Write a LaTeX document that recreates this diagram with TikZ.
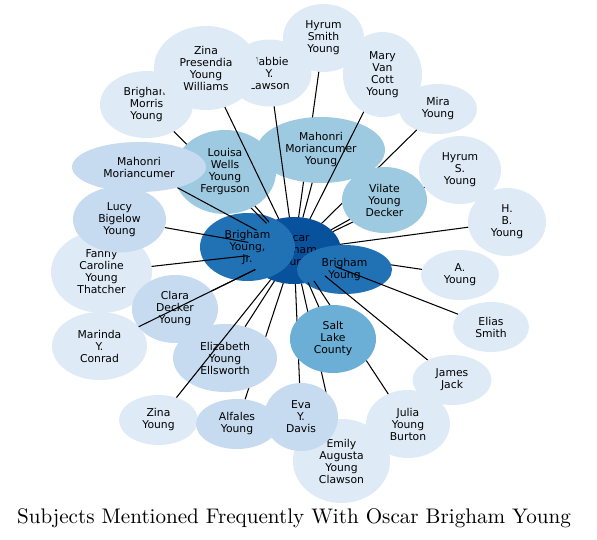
\documentclass[tikz,border=0pt]{standalone}
\usepackage{fontspec}
\usetikzlibrary{shapes.geometric}
\newfontfamily\nodefont{DejaVu Sans}
\newfontfamily\titlefont{lmroman10-regular}[Extension=.otf]
\definecolor{cA}{HTML}{DEEBF7}
\definecolor{cB}{HTML}{C6DBEF}
\definecolor{cC}{HTML}{9ECAE1}
\definecolor{cD}{HTML}{6BAED6}
\definecolor{cE}{HTML}{2171B5}
\definecolor{cF}{HTML}{08519C}
\pgfdeclarelayer{e0}
\pgfdeclarelayer{n1}
\pgfdeclarelayer{e1}
\pgfdeclarelayer{n2}
\pgfdeclarelayer{e2}
\pgfsetlayers{e0,n1,e1,n2,e2,main}
\tikzset{
  bub/.style={ellipse, draw=none, inner sep=0pt, outer sep=0pt, align=center,
    text=black, font=\nodefont\fontsize{10.8}{12}\selectfont},
  link/.style={draw=black, line width=1.05pt}
}
\begin{document}
\begin{tikzpicture}[x=1pt,y=-1pt]
\useasboundingbox (0,0) rectangle (597,539);
% ---------- bottom node layer
\begin{pgfonlayer}{n1}
\node[bub, fill=cF, minimum width=94pt, minimum height=67pt] (oscar) at (294,250.5) {Oscar\\Brigham\\Young};
\node[bub, fill=cE, minimum width=95pt, minimum height=68pt] (byjr) at (247.5,247) {Brigham\\Young,\\Jr.};
\node[bub, fill=cE, minimum width=95pt, minimum height=49pt] (by) at (344.5,269.5) {Brigham\\Young};
\node[bub, fill=cA, minimum width=93pt, minimum height=67pt] (bmy) at (146.5,104.5) {Brigham\\Morris\\Young};
\node[bub, fill=cA, minimum width=84pt, minimum height=67pt] (nabbie) at (269.5,73) {Nabbie\\Y.\\Lawson};
\node[bub, fill=cA, minimum width=81pt, minimum height=68pt] (hsmith) at (323.5,38) {Hyrum\\Smith\\Young};
\node[bub, fill=cA, minimum width=104pt, minimum height=84pt] (zinap) at (206,68) {Zina\\Presendia\\Young\\Williams};
\node[bub, fill=cA, minimum width=79pt, minimum height=85pt] (mary) at (382.5,74.5) {Mary\\Van\\Cott\\Young};
\node[bub, fill=cA, minimum width=78pt, minimum height=50pt] (mira) at (438,109) {Mira\\Young};
\node[bub, fill=cA, minimum width=97pt, minimum height=84pt] (emily) at (341.5,461) {Emily\\Augusta\\Young\\Clawson};
\node[bub, fill=cA, minimum width=84pt, minimum height=68pt] (julia) at (408,424) {Julia\\Young\\Burton};
\node[bub, fill=cA, minimum width=101pt, minimum height=82pt] (fanny) at (101.5,272) {Fanny\\Caroline\\Young\\Thatcher};
\node[bub, fill=cA, minimum width=95pt, minimum height=68pt] (marinda) at (99.5,346) {Marinda\\Y.\\Conrad};
\end{pgfonlayer}
% ---------- middle node layer
\begin{pgfonlayer}{n2}
\node[bub, fill=cC, minimum width=102pt, minimum height=84pt] (louisa) at (225,172) {Louisa\\Wells\\Young\\Ferguson};
\node[bub, fill=cC, minimum width=128pt, minimum height=66pt] (mmy) at (321,150) {Mahonri\\Moriancumer\\Young};
\node[bub, fill=cC, minimum width=85pt, minimum height=66pt] (vilate) at (384.5,200) {Vilate\\Young\\Decker};
\node[bub, fill=cB, minimum width=86pt, minimum height=68pt] (clara) at (175,309) {Clara\\Decker\\Young};
\node[bub, fill=cB, minimum width=104pt, minimum height=68pt] (eliz) at (225,358) {Elizabeth\\Young\\Ellsworth};
\node[bub, fill=cD, minimum width=86pt, minimum height=68pt] (slc) at (333,339) {Salt\\Lake\\County};
\node[bub, fill=cB, minimum width=74pt, minimum height=68pt] (eva) at (301,417) {Eva\\Y.\\Davis};
\end{pgfonlayer}
% ---------- top node layer
\node[bub, fill=cB, minimum width=134pt, minimum height=50pt] (mahonri) at (139,167) {Mahonri\\Moriancumer};
\node[bub, fill=cB, minimum width=93pt, minimum height=66pt] (lucy) at (119.5,219.5) {Lucy\\Bigelow\\Young};
\node[bub, fill=cA, minimum width=79pt, minimum height=50pt] (zinay) at (158.5,420) {Zina\\Young};
\node[bub, fill=cB, minimum width=82pt, minimum height=50pt] (alfales) at (237,424) {Alfales\\Young};
\node[bub, fill=cA, minimum width=79pt, minimum height=50pt] (james) at (452,380) {James\\Jack};
\node[bub, fill=cA, minimum width=76pt, minimum height=50pt] (elias) at (491,327) {Elias\\Smith};
\node[bub, fill=cA, minimum width=78pt, minimum height=50pt] (ay) at (460,275) {A.\\Young};
\node[bub, fill=cA, minimum width=78pt, minimum height=68pt] (hb) at (507,222) {H.\\B.\\Young};
\node[bub, fill=cA, minimum width=82pt, minimum height=68pt] (hyrums) at (460,170) {Hyrum\\S.\\Young};
% ---------- title
\node[anchor=base, inner sep=0pt, font=\titlefont\fontsize{21.1}{25}\selectfont] (title) at (294,523) {Subjects Mentioned Frequently With Oscar Brigham Young};
% ---------- edges
\begin{pgfonlayer}{e0}
\draw[link] (oscar) -- (ay);
\end{pgfonlayer}
\begin{pgfonlayer}{e1}
\draw[link] (oscar) -- (bmy);
\draw[link] (oscar) -- (hsmith);
\draw[link] (oscar) -- (mira);
\draw[link] (oscar) -- (hyrums);
\draw[link] (oscar) -- (alfales);
\draw[link] (oscar) -- (eva);
\draw[link] (oscar) -- (emily);
\draw[link] (oscar) -- (julia);
\end{pgfonlayer}
\begin{pgfonlayer}{e2}
\draw[link] (oscar) -- (zinap);
\draw[link] (oscar) -- (nabbie);
\draw[link] (oscar) -- (mary);
\draw[link] (oscar) -- (mahonri);
\draw[link] (oscar) -- (lucy);
\draw[link] (oscar) -- (fanny);
\draw[link] (oscar) -- (marinda);
\draw[link] (oscar) -- (clara);
\draw[link] (oscar) -- (zinay);
\draw[link] (oscar) -- (hb);
\draw[link] (oscar) -- (elias);
\draw[link] (oscar) -- (james);
\draw[link] (oscar) -- (louisa);
\draw[link] (oscar) -- (mmy);
\draw[link] (oscar) -- (vilate);
\draw[link] (oscar) -- (slc);
\draw[link] (oscar) -- (eliz);
\end{pgfonlayer}
\end{tikzpicture}
\end{document}
